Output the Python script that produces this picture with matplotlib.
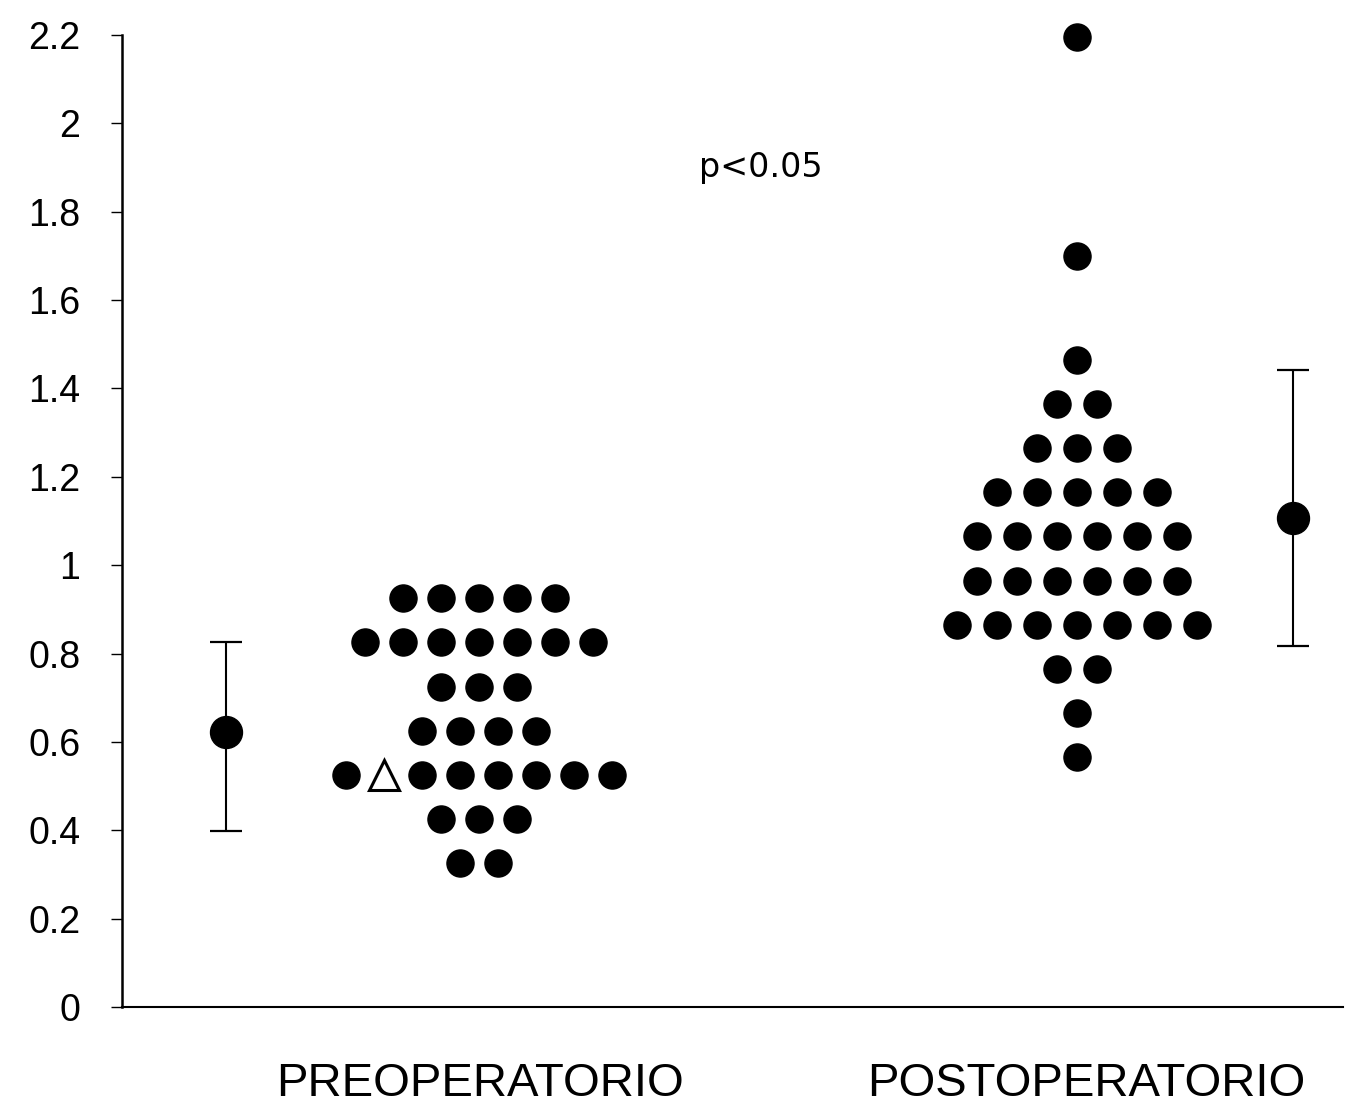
import matplotlib
matplotlib.use("Agg")
import matplotlib.pyplot as plt
import numpy as np

# ---- data ----
categories = ["PREOPERATORIO", "POSTOPERATORIO"]

pre_levels = [0.925, 0.825, 0.725, 0.625, 0.525, 0.425, 0.325]
pre_counts = [5, 7, 3, 4, 8, 3, 2]          # row of 0.525 includes the open triangle
triangle_value = 0.525
triangle_row_index = 1                      # position of the triangle within its row

post_levels = [2.195, 1.70, 1.465, 1.365, 1.265, 1.165, 1.065, 0.965, 0.865, 0.765, 0.665, 0.565]
post_counts = [1, 1, 1, 2, 3, 5, 6, 6, 7, 2, 1, 1]

mean_values = [0.623, 1.107]
err_low = [0.399, 0.817]
err_high = [0.825, 1.442]

p_text = "p<0.05"

yticks = [0, 0.2, 0.4, 0.6, 0.8, 1.0, 1.2, 1.4, 1.6, 1.8, 2.0, 2.2]
ytick_labels = ["0", "0.2", "0.4", "0.6", "0.8", "1", "1.2", "1.4", "1.6", "1.8", "2", "2.2"]

# ---- layout ----
centers = [1.0, 2.0]
spacing = [0.0635, 0.0669]
mean_x = [0.578, 2.361]

plt.rcParams['font.family'] = ['Liberation Sans', 'DejaVu Sans']

fig = plt.figure(figsize=(13.51, 11.10), dpi=100)
ax = fig.add_axes([0.0903, 0.0928, 0.9038, 0.8757])

def row_positions(center, n, step):
    return center + (np.arange(n) - (n - 1) / 2.0) * step

# preoperative dots
for lvl, n in zip(pre_levels, pre_counts):
    xs = row_positions(centers[0], n, spacing[0])
    if lvl == triangle_value:
        xt = xs[triangle_row_index]
        xs = np.delete(xs, triangle_row_index)
        ax.plot([xt], [lvl], marker='^', markersize=21, markerfacecolor='white',
                markeredgecolor='black', markeredgewidth=2.2, linestyle='none', clip_on=False)
    ax.plot(xs, [lvl] * len(xs), 'o', color='black', markersize=19.5, clip_on=False)

# postoperative dots
for lvl, n in zip(post_levels, post_counts):
    xs = row_positions(centers[1], n, spacing[1])
    ax.plot(xs, [lvl] * len(xs), 'o', color='black', markersize=19.5, clip_on=False)

# mean with error bars
for mx, m, lo, hi in zip(mean_x, mean_values, err_low, err_high):
    ax.errorbar([mx], [m], yerr=[[m - lo], [hi - m]], fmt='o', color='black',
                markersize=23, elinewidth=1.5, capsize=11.5, capthick=1.6, clip_on=False)

ax.text(1.472, 1.899, p_text, ha='center', va='center', fontsize=24,
        family=['DejaVu Sans'])

for c, lab in zip([1.003, 2.016], categories):
    ax.text(c, -0.174, lab, ha='center', va='center', fontsize=34, clip_on=False)

ax.set_xlim(0.404, 2.445)
ax.set_ylim(0, 2.2)
ax.set_yticks(yticks)
ax.set_yticklabels(ytick_labels, fontsize=27)
ax.set_xticks([])
ax.tick_params(axis='y', direction='out', length=8, width=1.0, pad=22)

for s in ['top', 'right']:
    ax.spines[s].set_visible(False)
ax.spines['left'].set_linewidth(1.8)
ax.spines['bottom'].set_linewidth(1.5)

fig.savefig("out.png", dpi=100, facecolor='white')
